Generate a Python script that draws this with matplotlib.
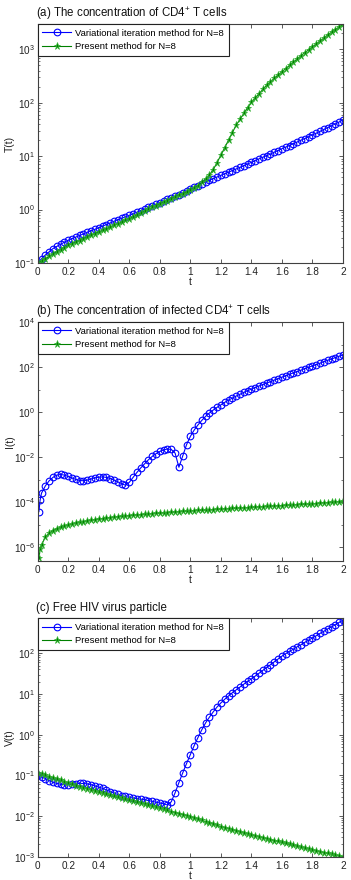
import numpy as np
import matplotlib
matplotlib.use("Agg")
import matplotlib.pyplot as plt
from matplotlib.ticker import LogLocator, NullFormatter

plt.rcParams['font.family'] = ['Liberation Sans', 'DejaVu Sans']
plt.rcParams['mathtext.fontset'] = 'custom'
plt.rcParams['mathtext.rm'] = 'Liberation Sans'
plt.rcParams['mathtext.it'] = 'Liberation Sans:italic'

# time grid (t values of the plotted samples)
t = np.linspace(0, 2, 81)
t_b = np.concatenate([[0.008, 0.016], np.linspace(0.025, 2, 80)])

# ---- values read from the log axes, stored as log10 exponents ----
# (a) T(t)
T_vim_log10 = [-1.00, -0.92, -0.85, -0.79, -0.73, -0.69, -0.65, -0.61, -0.575, -0.545,
               -0.515, -0.485, -0.455, -0.425, -0.395, -0.37, -0.34, -0.31, -0.28, -0.25,
               -0.22, -0.19, -0.165, -0.135, -0.11, -0.08, -0.05, -0.02, 0.01, 0.04,
               0.07, 0.10, 0.13, 0.16, 0.19, 0.22, 0.25, 0.28, 0.31, 0.345,
               0.38, 0.415, 0.45, 0.485, 0.52, 0.55, 0.58, 0.61, 0.64, 0.67,
               0.70, 0.73, 0.76, 0.79, 0.82, 0.855, 0.885, 0.915, 0.95, 0.98,
               1.01, 1.04, 1.075, 1.105, 1.14, 1.17, 1.20, 1.235, 1.265, 1.30,
               1.33, 1.365, 1.40, 1.43, 1.465, 1.50, 1.535, 1.57, 1.605, 1.64, 1.68]
T_present_log10 = [-1.00, -0.96, -0.92, -0.875, -0.835, -0.79, -0.75, -0.71, -0.67, -0.64,
                   -0.61, -0.58, -0.545, -0.515, -0.485, -0.45, -0.42, -0.39, -0.36, -0.33,
                   -0.295, -0.265, -0.235, -0.20, -0.17, -0.135, -0.10, -0.065, -0.03, 0.005,
                   0.04, 0.075, 0.11, 0.14, 0.17, 0.205, 0.235, 0.265, 0.30, 0.33,
                   0.36, 0.40, 0.45, 0.51, 0.57, 0.65, 0.75, 0.88, 1.02, 1.16,
                   1.30, 1.44, 1.58, 1.69, 1.80, 1.91, 2.01, 2.09, 2.17, 2.25,
                   2.33, 2.39, 2.46, 2.52, 2.58, 2.64, 2.70, 2.76, 2.82, 2.88,
                   2.94, 2.99, 3.05, 3.10, 3.16, 3.21, 3.27, 3.32, 3.37, 3.42, 3.47]

# (b) I(t)  (sampled on t_b)
I_vim_log10 = [-4.42, -3.90, -3.60, -3.28, -3.05, -2.90, -2.80, -2.77, -2.80, -2.86,
               -2.93, -2.99, -3.04, -3.05, -3.02, -2.97, -2.92, -2.89, -2.88, -2.90,
               -2.95, -3.02, -3.10, -3.18, -3.25, -3.12, -2.90, -2.68, -2.48, -2.30,
               -2.12, -1.97, -1.85, -1.75, -1.68, -1.64, -1.66, -1.82, -2.45, -1.95,
               -1.45, -1.08, -0.80, -0.57, -0.37, -0.19, -0.04, 0.09, 0.21, 0.32,
               0.43, 0.53, 0.62, 0.71, 0.79, 0.87, 0.95, 1.02, 1.09, 1.16,
               1.22, 1.29, 1.35, 1.42, 1.48, 1.55, 1.61, 1.68, 1.74, 1.80,
               1.86, 1.93, 1.99, 2.05, 2.11, 2.17, 2.24, 2.30, 2.36, 2.42, 2.48, 2.54]
I_present_log10 = [-6.50, -6.10, -5.90, -5.55, -5.38, -5.26, -5.18, -5.12, -5.07, -5.03,
                   -4.98, -4.94, -4.90, -4.87, -4.84, -4.81, -4.78, -4.75, -4.73, -4.71,
                   -4.69, -4.67, -4.65, -4.63, -4.615, -4.60, -4.585, -4.57, -4.555, -4.54,
                   -4.525, -4.51, -4.50, -4.49, -4.475, -4.46, -4.45, -4.44, -4.425, -4.41,
                   -4.40, -4.39, -4.38, -4.37, -4.36, -4.35, -4.34, -4.33, -4.32, -4.31,
                   -4.30, -4.29, -4.28, -4.27, -4.26, -4.25, -4.24, -4.23, -4.22, -4.21,
                   -4.20, -4.19, -4.18, -4.17, -4.16, -4.15, -4.14, -4.13, -4.12, -4.11,
                   -4.10, -4.09, -4.08, -4.07, -4.06, -4.04, -4.03, -4.02, -4.00, -3.99, -3.98, -3.97]

# (c) V(t)
V_vim_log10 = [-0.98, -1.03, -1.08, -1.13, -1.17, -1.20, -1.22, -1.23, -1.23, -1.22,
               -1.21, -1.20, -1.20, -1.21, -1.23, -1.26, -1.29, -1.32, -1.36, -1.40,
               -1.44, -1.47, -1.50, -1.52, -1.54, -1.56, -1.57, -1.59, -1.60, -1.62,
               -1.64, -1.66, -1.68, -1.70, -1.73, -1.65, -1.43, -1.18, -0.94, -0.71,
               -0.49, -0.27, -0.07, 0.12, 0.29, 0.43, 0.56, 0.68, 0.78, 0.87,
               0.95, 1.03, 1.10, 1.17, 1.24, 1.31, 1.37, 1.44, 1.51, 1.58,
               1.65, 1.72, 1.79, 1.86, 1.93, 1.99, 2.05, 2.10, 2.16, 2.21,
               2.27, 2.32, 2.38, 2.43, 2.49, 2.54, 2.60, 2.65, 2.70, 2.76, 2.81]
V_present_log10 = [-0.94, -0.97, -1.00, -1.03, -1.06, -1.09, -1.12, -1.155, -1.19, -1.22,
                   -1.25, -1.28, -1.305, -1.335, -1.36, -1.39, -1.42, -1.44, -1.465, -1.49,
                   -1.515, -1.54, -1.56, -1.585, -1.61, -1.635, -1.66, -1.685, -1.71, -1.735,
                   -1.76, -1.785, -1.81, -1.835, -1.86, -1.89, -1.915, -1.94, -1.965, -1.99,
                   -2.02, -2.05, -2.08, -2.11, -2.14, -2.17, -2.20, -2.23, -2.26, -2.285,
                   -2.31, -2.34, -2.365, -2.39, -2.42, -2.445, -2.47, -2.49, -2.515, -2.535,
                   -2.56, -2.58, -2.605, -2.625, -2.65, -2.675, -2.70, -2.72, -2.745, -2.77,
                   -2.79, -2.815, -2.84, -2.86, -2.88, -2.90, -2.92, -2.94, -2.96, -2.98, -3.00]

titles = ['(a) The concentration of CD4$^{+}$ T cells',
          '(b) The concentration of infected CD4$^{+}$ T cells',
          '(c) Free HIV virus particle']
ylabels = ['T(t)', 'I(t)', 'V(t)']
legend_labels = ['Variational iteration method for N=8', 'Present method for N=8']
ylims = [(0.1, 10**3.475), (10**-6.6, 1e4), (1e-3, 10**2.86)]
major_ticks = [[1e-1, 1e0, 1e1, 1e2, 1e3],
               [1e-6, 1e-4, 1e-2, 1e0, 1e2, 1e4],
               [1e-3, 1e-2, 1e-1, 1e0, 1e1, 1e2]]
xticks = [0, 0.2, 0.4, 0.6, 0.8, 1, 1.2, 1.4, 1.6, 1.8, 2]
xticklabels = ['0', '0.2', '0.4', '0.6', '0.8', '1', '1.2', '1.4', '1.6', '1.8', '2']

series = [(t, T_vim_log10, t, T_present_log10),
          (t_b, I_vim_log10, t_b, I_present_log10),
          (t, V_vim_log10, t, V_present_log10)]

W, H = 351, 880
fig = plt.figure(figsize=(W / 100, H / 100), dpi=100)
boxes = [(37.7, 24, 343, 263), (37.7, 322, 343, 560.7), (37.7, 618.3, 343, 856.7)]

blue = (0.0, 0.0, 1.0)
green = (0.0, 0.5, 0.0)
axcol = '#404040'

for i, (x1, y1, x2, y2) in enumerate(boxes):
    ax = fig.add_axes([x1 / W, 1 - y2 / H, (x2 - x1) / W, (y2 - y1) / H])
    tv, yv, tp, yp = series[i]
    ax.plot(tv, 10 ** np.asarray(yv), '-', color=blue, lw=0.8, marker='o',
            markersize=4.8, markerfacecolor='none', markeredgecolor=blue, mew=0.8,
            label=legend_labels[0])
    ax.plot(tp, 10 ** np.asarray(yp), '-', color=green, lw=0.8, marker='*',
            markersize=5.2, markerfacecolor=green, markeredgecolor=(0.2, 0.7, 0.2), mew=0.5,
            label=legend_labels[1])
    ax.set_yscale('log')
    ax.set_xlim(0, 2)
    ax.set_ylim(*ylims[i])
    ax.set_yticks(major_ticks[i])
    if i == 1:
        ax.yaxis.set_minor_locator(LogLocator(base=10, subs=[10.0], numticks=20))
    else:
        ax.yaxis.set_minor_locator(LogLocator(base=10, subs=np.arange(2, 10), numticks=20))
    ax.yaxis.set_minor_formatter(NullFormatter())
    ax.set_xticks(xticks)
    ax.set_xticklabels(xticklabels)
    ax.tick_params(which='both', direction='in', top=True, right=True,
                   labelsize=7.2, colors=axcol, labelcolor='#222222')
    ax.tick_params(which='major', length=3, width=0.6)
    ax.tick_params(which='minor', length=1.5, width=0.5)
    ax.tick_params(axis='x', pad=3)
    ax.tick_params(axis='y', pad=2)
    for s in ax.spines.values():
        s.set_color(axcol)
        s.set_linewidth(0.8)
    ax.set_title(titles[i], loc='left', fontsize=8.3, pad=5, color='#111111', x=-0.005)
    ax.set_xlabel('t', fontsize=7.5, labelpad=0, color='#222222')
    ax.set_ylabel(ylabels[i], fontsize=7.5, color='#222222')
    ax.yaxis.set_label_coords(-0.075, 0.5)
    leg = ax.legend(loc='upper left', borderaxespad=0, fancybox=False, framealpha=1,
                    edgecolor='#222222', fontsize=6.8, handlelength=3.0,
                    borderpad=0.5, labelspacing=0.45, handletextpad=0.5)
    leg.get_frame().set_linewidth(0.8)

fig.savefig('out.png', dpi=100)
